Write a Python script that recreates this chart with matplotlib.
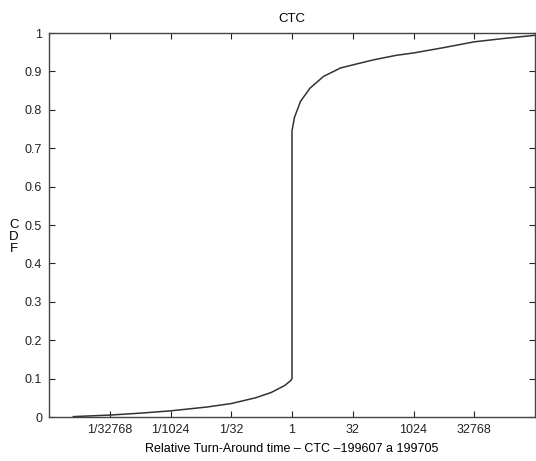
import matplotlib
matplotlib.use("Agg")
import matplotlib.pyplot as plt
import numpy as np

# CDF of relative turn-around time (x in log2 units)
log2_time = [-18, -15, -12.5, -10, -7, -5, -3, -1.7, -0.6, -0.1, 0, 0,
             0.2, 0.7, 1.5, 2.6, 4, 5.4, 6.7, 8.6, 10, 12.5, 15, 17.5, 20]
cdf = [0.001, 0.005, 0.01, 0.016, 0.026, 0.035, 0.05, 0.064, 0.082, 0.095, 0.1, 0.745,
       0.78, 0.822, 0.857, 0.887, 0.909, 0.92, 0.93, 0.942, 0.948, 0.962, 0.977, 0.986, 0.994]

tick_exp = [-15, -10, -5, 0, 5, 10, 15]
tick_labels = ["1/32768", "1/1024", "1/32", "1", "32", "1024", "32768"]

plt.rcParams['font.family'] = ['Liberation Sans', 'DejaVu Sans']

fig = plt.figure(figsize=(5.36, 4.61), dpi=100)
ax = fig.add_axes([49 / 536, 44 / 461, 486 / 536, 384 / 461])

rel_time = 2.0 ** np.array(log2_time)
ax.plot(rel_time, cdf, color="#333333", linewidth=1.1)

ax.set_xscale("log", base=2)
ax.set_xlim(2.0 ** -20, 2.0 ** 20)
ax.set_ylim(0, 1)
ax.set_xticks([2.0 ** e for e in tick_exp])
ax.set_xticklabels(tick_labels)
ax.minorticks_off()
ax.set_yticks(np.arange(0, 1.01, 0.1))
ax.set_yticklabels(["0"] + ["%.1f" % v for v in np.arange(0.1, 0.95, 0.1)] + ["1"])
ax.tick_params(direction="in", top=True, right=True, length=4, width=0.8,
               labelsize=9, colors="#222222", pad=5)
for s in ax.spines.values():
    s.set_color("#444444")
    s.set_linewidth(1.0)

ax.set_title("CTC", fontsize=9.5, pad=8)
ax.set_xlabel("Relative Turn-Around time \u2013 CTC \u2013199607 a 199705", fontsize=9, labelpad=5)
fig.text(14 / 536, 1 - 237 / 461, "C\nD\nF", ha="center", va="center",
         fontsize=9.5, linespacing=1.0)

fig.savefig("out.png", dpi=100)
